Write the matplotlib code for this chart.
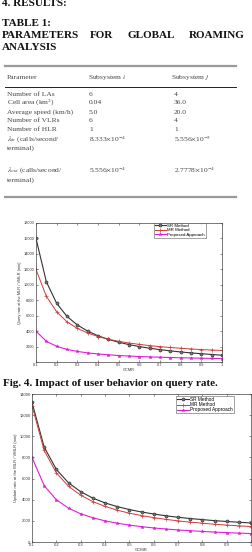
import matplotlib.pyplot as plt
from matplotlib.lines import Line2D

plt.rcParams['font.family'] = 'Liberation Serif'
plt.rcParams['mathtext.fontset'] = 'stix'

# Data
gcmr = [0.1, 0.15, 0.2, 0.25, 0.3, 0.35, 0.4, 0.45, 0.5, 0.55,
        0.6, 0.65, 0.7, 0.75, 0.8, 0.85, 0.9, 0.95, 1.0]

# Fig. 4 - query rate
query_sr = [16000, 10400, 7600, 5900, 4800, 4000, 3400, 2930, 2560, 2250,
            2000, 1780, 1600, 1440, 1300, 1180, 1070, 970, 880]
query_mr = [12000, 8500, 6500, 5200, 4350, 3750, 3300, 2950, 2680, 2460,
            2280, 2120, 1990, 1880, 1780, 1690, 1610, 1550, 1500]
query_prop = [4000, 2680, 2030, 1630, 1370, 1180, 1040, 930, 840, 770,
              710, 660, 620, 580, 550, 520, 490, 470, 450]

# second figure - update rate
update_sr = [13200, 8980, 6870, 5600, 4760, 4150, 3700, 3350, 3070, 2840,
             2650, 2480, 2340, 2220, 2120, 2020, 1940, 1870, 1800]
update_mr = [12900, 8660, 6540, 5270, 4430, 3820, 3370, 3010, 2730, 2500,
             2310, 2140, 2000, 1880, 1780, 1680, 1600, 1530, 1460]
update_prop = [8000, 5330, 4000, 3200, 2670, 2290, 2000, 1780, 1600, 1450,
               1330, 1230, 1140, 1070, 1000, 940, 890, 840, 800]

series_names = ['SR Method', 'MR Method', 'Proposed Approach']

# Table 1
params = ['Number of LAs', 'Cell area (km$^2$)', 'Average speed (km/h)', 'Number of VLRs',
          'Number of HLR', r'$\lambda_{in}$ (calls/second/', 'terminal)',
          r'$\lambda_{out}$ (calls/second/', 'terminal)']
subsys_i = ['6', '0.04', '5.0', '6', '1', r'8.333$\times$10$^{-4}$', '',
            r'5.556$\times$10$^{-4}$', '']
subsys_j = ['4', '36.0', '20.0', '4', '1', r'5.556$\times$10$^{-5}$', '',
            r'2.7778$\times$10$^{-4}$', '']
row_y = [94, 103, 112, 121, 130, 139, 148, 170, 180]

W, H = 252, 552
fig = plt.figure(figsize=(W / 100, H / 100), dpi=100)


def fx(x):
    return x / W


def fy(y):
    return 1 - y / H


def hline(x0, x1, y, **kw):
    fig.add_artist(Line2D([fx(x0), fx(x1)], [fy(y), fy(y)], transform=fig.transFigure, **kw))


# headings
bold = dict(fontweight='bold', va='center', color='#111111', fontsize=8)
fig.text(fx(2), fy(3), '4. RESULTS:', **bold)
fig.text(fx(2), fy(24), 'TABLE 1:', **bold)
for word, x in zip(['PARAMETERS', 'FOR', 'GLOBAL', 'ROAMING'], [2, 90, 128, 189]):
    fig.text(fx(x), fy(36), word, **bold)
fig.text(fx(2), fy(47), 'ANALYSIS', **bold)

# table
hline(5, 236, 66, color='#9a9a9a', lw=1.6)
hline(5, 236, 87, color='#222222', lw=0.7)
hline(5, 236, 197, color='#9a9a9a', lw=1.6)
cell = dict(va='center', color='#444444', fontsize=5.4)
fig.text(fx(7), fy(77), 'Parameter', **cell)
fig.text(fx(88), fy(77), 'Subsystem $i$', **cell)
fig.text(fx(171), fy(77), 'Subsystem $j$', **cell)
for p, vi, vj, y in zip(params, subsys_i, subsys_j, row_y):
    fig.text(fx(7), fy(y), p, **cell)
    fig.text(fx(89), fy(y), vi, **cell)
    fig.text(fx(174), fy(y), vj, **cell)


def draw_chart(rect, sr, mr, prop, ylim, yticks, ylabels, ylabel, leg_xy, fs):
    ax = fig.add_axes(rect)
    ax.plot(gcmr, sr, color='#333333', marker='o', ms=2.2, mfc='#777777', mec='#222222',
            mew=0.4, lw=0.8, label=series_names[0])
    ax.plot(gcmr, mr, color='#d03a3a', marker='+', ms=2.5, mew=0.5, lw=0.7, label=series_names[1])
    ax.plot(gcmr, prop, color='#e020d8', marker='*', ms=2.5, mew=0.3, lw=0.8, label=series_names[2])
    ax.set_xlim(0.1, 1)
    ax.set_ylim(*ylim)
    ax.set_xticks([0.1, 0.2, 0.3, 0.4, 0.5, 0.6, 0.7, 0.8, 0.9, 1])
    ax.set_xticklabels(['0.1', '0.2', '0.3', '0.4', '0.5', '0.6', '0.7', '0.8', '0.9', '1'])
    ax.set_yticks(yticks)
    ax.set_yticklabels(ylabels)
    ax.tick_params(direction='in', length=1.5, width=0.4, labelsize=fs, pad=1,
                   top=True, right=True, colors='#333333')
    for s in ax.spines.values():
        s.set_linewidth(0.5)
        s.set_color('#444444')
    ax.set_xlabel('GCMR', fontsize=fs, labelpad=0.5, family='Liberation Sans', color='#333333')
    ax.set_ylabel(ylabel, fontsize=fs, labelpad=1, family='Liberation Sans', color='#333333')
    for lab in ax.get_xticklabels() + ax.get_yticklabels():
        lab.set_family('Liberation Sans')
    leg = ax.legend(loc='upper right', bbox_to_anchor=(fx(leg_xy[0]), fy(leg_xy[1])),
                    bbox_transform=fig.transFigure, frameon=True,
                    fancybox=False, borderpad=0.2, labelspacing=0.05, handlelength=2.4,
                    handletextpad=0.4, borderaxespad=0,
                    prop={'family': 'Liberation Sans', 'size': fs + 0.4})
    leg.get_frame().set_edgecolor('#333333')
    leg.get_frame().set_linewidth(0.4)
    return ax


draw_chart([fx(36), fy(362), 186 / W, 139 / H], query_sr, query_mr, query_prop,
           (0, 18000), list(range(0, 18001, 2000)),
           [''] + [str(v) for v in range(2000, 18001, 2000)],
           'Query rate at the MLR / VMLR (min)', (206, 223), 2.8)

fig.text(fx(3), fy(383), 'Fig. 4. Impact of user behavior on query rate.',
         fontweight='bold', va='center', color='#111111', fontsize=8.0)

draw_chart([fx(32), fy(542), 219 / W, 148 / H], update_sr, update_mr, update_prop,
           (0, 14000), list(range(0, 14001, 2000)),
           [str(v) for v in range(0, 14001, 2000)],
           'Update rate at the MLR / VMLR (min)', (234, 396), 3.0)

fig.savefig('out.png', dpi=100)
